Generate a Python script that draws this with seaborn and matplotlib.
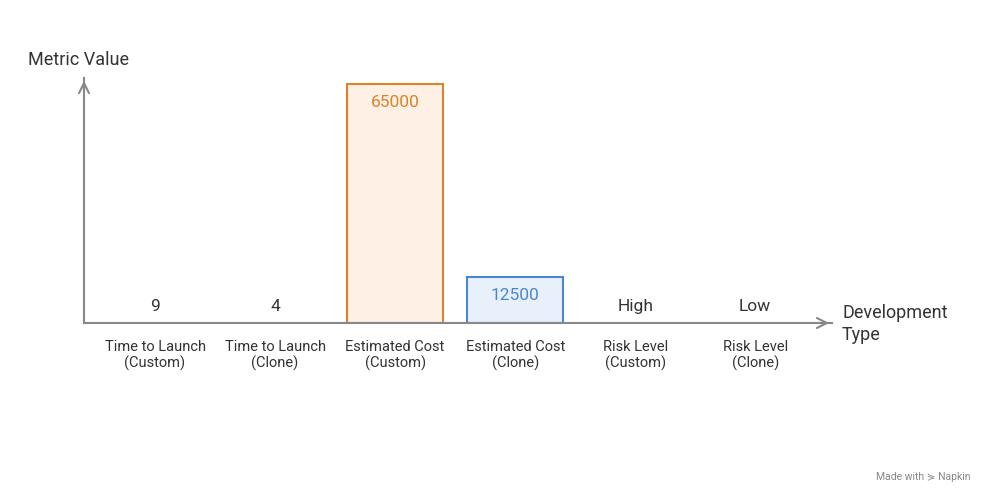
import matplotlib
matplotlib.use("Agg")
import matplotlib.pyplot as plt
import seaborn as sns
import pandas as pd

categories = ["Time to Launch\n(Custom)", "Time to Launch\n(Clone)", "Estimated Cost\n(Custom)",
              "Estimated Cost\n(Clone)", "Risk Level\n(Custom)", "Risk Level\n(Clone)"]
values = [9, 4, 65000, 12500, 0, 0]
labels = ["9", "4", "65000", "12500", "High", "Low"]
fills = ["#ffffff", "#ffffff", "#fef0e4", "#e8f0fc", "#ffffff", "#ffffff"]
edges = ["none", "none", "#d9832b", "#4a87d1", "none", "none"]
text_colors = ["#333333", "#333333", "#d9832b", "#4a87d1", "#333333", "#333333"]

sns.set_style("white")
plt.rcParams["font.family"] = ["Roboto", "DejaVu Sans"]

fig = plt.figure(figsize=(9.96, 5.04), dpi=100)
ax = fig.add_axes([84 / 996, 181 / 504, 748 / 996, 245 / 504])
df = pd.DataFrame({"cat": categories, "val": values})
sns.barplot(data=df, x="cat", y="val", hue="cat", palette=fills, legend=False,
            width=0.8, ax=ax, linewidth=1.5, saturation=1)
for p, ec in zip(ax.patches, edges):
    p.set_edgecolor(ec)

for i, (v, t, c) in enumerate(zip(values, labels, text_colors)):
    if v > 5000:
        ax.text(i, v - 5000, t, ha="center", va="center", fontsize=12.5, color=c)
    else:
        ax.text(i, 4600, t, ha="center", va="center", fontsize=12.5, color=c)

ax.set_xlim(-0.592, 5.64)
ax.set_ylim(0, 66600)
for s in ["top", "right"]:
    ax.spines[s].set_visible(False)
for s in ["left", "bottom"]:
    ax.spines[s].set_color("#888888")
    ax.spines[s].set_linewidth(1.5)
ax.annotate("", xy=(1.0, 0), xytext=(0.98, 0), xycoords="axes fraction",
            arrowprops=dict(arrowstyle="->", color="#888888", lw=1.5, mutation_scale=18))
ax.annotate("", xy=(0, 1.0), xytext=(0, 0.96), xycoords="axes fraction",
            arrowprops=dict(arrowstyle="->", color="#888888", lw=1.5, mutation_scale=18))
ax.set_yticks([])
ax.tick_params(axis="x", length=0, pad=12, labelsize=10.5, labelcolor="#333333")
ax.set_xlabel("")
ax.set_ylabel("")
fig.text(28 / 996, 1 - 60 / 504, "Metric Value", fontsize=13, color="#333333", va="center")
fig.text(842 / 996, 1 - 324 / 504, "Development\nType", fontsize=13, color="#333333",
         va="center", linespacing=1.3)
fig.text(970 / 996, 1 - 477 / 504, "Made with ⋟ Napkin", fontsize=7.5, color="#888888",
         ha="right", va="center")

fig.savefig("out.png", dpi=100)
